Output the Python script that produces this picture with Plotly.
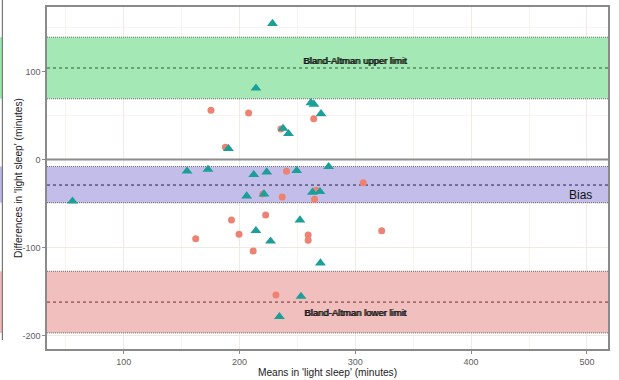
import plotly.graph_objects as go

# Bland-Altman agreement for 'light sleep' (minutes), two device groups
circle_means = [175.4, 207.9, 264.1, 235.8, 187.9, 240.6, 306.9, 220.1, 236.9, 266.1,
                264.8, 222.6, 193.1, 199.6, 162.2, 259.3, 259.3, 322.8, 211.8, 231.5]
circle_diffs = [55.9, 52.8, 46.4, 34.7, 13.9, -13.4, -26.4, -39.2, -42.6, -35.0,
                -45.1, -63.1, -68.8, -85.0, -90.0, -85.8, -91.7, -80.9, -104.0, -154.0]

triangle_means = [228.5, 214.2, 261.7, 264.3, 270.4, 237.6, 242.3, 190.5, 154.7, 172.8,
                  212.3, 223.5, 249.4, 277.0, 206.2, 221.2, 263.0, 269.5, 55.8, 252.2,
                  214.2, 226.8, 269.9, 253.1, 234.5]
triangle_diffs = [154.5, 81.0, 64.5, 62.8, 52.0, 35.3, 29.3, 12.3, -13.3, -11.3,
                  -17.3, -14.2, -12.7, -8.2, -41.5, -39.2, -37.2, -36.6, -47.4, -68.8,
                  -80.9, -92.8, -117.6, -155.6, -178.6]

# Limits of agreement with their confidence bands
bias, bias_lo, bias_hi = -29, -49, -8
upper, upper_lo, upper_hi = 104, 69, 139
lower, lower_lo, lower_hi = -162, -197, -127

x_range = [33.8, 518.2]
y_range = [-215.3, 173.3]
x_ticks = [100, 200, 300, 400, 500]
y_ticks = [100, 0, -100, -200]
y_tick_text = ["100", "0", "-100", "-200"]

bands = [
    (upper_lo, upper_hi, upper, "#9CE7AF", "#2F5A3C"),
    (bias_lo, bias_hi, bias, "#BDB9E7", "#24224A"),
    (lower_lo, lower_hi, lower, "#F0BAB8", "#6E2E2E"),
]

fig = go.Figure()

xa, xb = x_range
shapes = []
for lo, hi, mid, fill, dash_col in bands:
    shapes.append(dict(type="rect", xref="x", yref="y", x0=xa, x1=xb, y0=lo, y1=hi,
                       fillcolor=fill, opacity=0.92, line_width=0, layer="between"))
    for edge in (lo, hi):
        shapes.append(dict(type="line", xref="x", yref="y", x0=xa, x1=xb, y0=edge, y1=edge,
                           line=dict(color="#6A6A6A", width=1, dash="1px,1px"), layer="between"))
    shapes.append(dict(type="line", xref="x", yref="y", x0=xa, x1=xb, y0=mid, y1=mid,
                       line=dict(color=dash_col, width=1, dash="3px,3px"), layer="between"))
    # sliver of the neighbouring panel at the far left
    shapes.append(dict(type="rect", xref="paper", yref="y", x0=-0.084, x1=-0.080, y0=lo, y1=hi,
                       fillcolor=fill, line_width=0, layer="above"))

shapes.append(dict(type="line", xref="paper", yref="paper", x0=-0.0795, x1=-0.0795, y0=0.026, y1=1.03,
                   line=dict(color="#777777", width=1.2), layer="above"))

# zero reference line
shapes.append(dict(type="line", xref="x", yref="y", x0=xa, x1=xb, y0=0, y1=0,
                   line=dict(color="#8C8C8C", width=2), layer="between"))

fig.add_trace(go.Scatter(
    x=circle_means, y=circle_diffs, mode="markers",
    marker=dict(symbol="circle", size=7, color="#EE8272", line_width=0),
    hoverinfo="skip", showlegend=False))
fig.add_trace(go.Scatter(
    x=triangle_means, y=triangle_diffs, mode="markers",
    marker=dict(symbol="triangle-up", size=9.5, color="#1C9E99", line_width=0),
    hoverinfo="skip", showlegend=False))

label_font = dict(size=9.5, color="#111111", family="Liberation Sans, Arial")
annotations = []
# limit labels drawn twice with a sub-pixel offset for a heavier stroke
for shift in (0, 0.5):
    annotations.append(dict(x=300, y=upper + 8, text="Bland-Altman upper limit", showarrow=False,
                            font=label_font, xref="x", yref="y", xshift=shift))
    annotations.append(dict(x=300, y=lower - 11.5, text="Bland-Altman lower limit", showarrow=False,
                            font=label_font, xref="x", yref="y", xshift=shift))
annotations.append(dict(x=506, y=bias - 11, text="Bias", showarrow=False, xanchor="right",
                        font=dict(size=12, color="#111111", family="Liberation Sans, Arial"),
                        xref="x", yref="y"))
# y-axis title, placed as rotated text in the left margin
annotations.append(dict(x=0, y=0.5, xref="paper", yref="paper", xanchor="center", yanchor="middle",
                        xshift=-29, textangle=-90, showarrow=False,
                        text="Differences in 'light sleep' (minutes)",
                        font=dict(size=10.2, color="#222222", family="Liberation Sans, Arial")))

axis_common = dict(
    showline=True, linecolor="#8A8A8A", linewidth=1.5, mirror=True,
    showgrid=True, gridcolor="#EFEAE3", gridwidth=1,
    ticks="outside", ticklen=3, tickcolor="#8A8A8A",
    tickfont=dict(size=9, color="#5E5E5E", family="Liberation Sans, Arial"),
    zeroline=False, automargin=False,
    minor=dict(showgrid=True, gridcolor="#F7F4F0", gridwidth=1, ticks=""),
)

fig.update_layout(
    width=619, height=380,
    margin=dict(l=47, r=11, t=7, b=31),
    paper_bgcolor="white", plot_bgcolor="white",
    shapes=shapes, annotations=annotations,
    font=dict(family="Liberation Sans, Arial"),
    xaxis=dict(range=x_range, tickvals=x_ticks,
               minor_tickvals=[50, 150, 250, 350, 450],
               title=dict(text="Means in 'light sleep' (minutes)", standoff=2,
                          font=dict(size=10.2, color="#222222")),
               **axis_common),
    yaxis=dict(range=y_range, tickvals=y_ticks, ticktext=y_tick_text,
               minor_tickvals=[150, 50, -50, -150],
               **axis_common),
)

fig.write_html("out.html")
